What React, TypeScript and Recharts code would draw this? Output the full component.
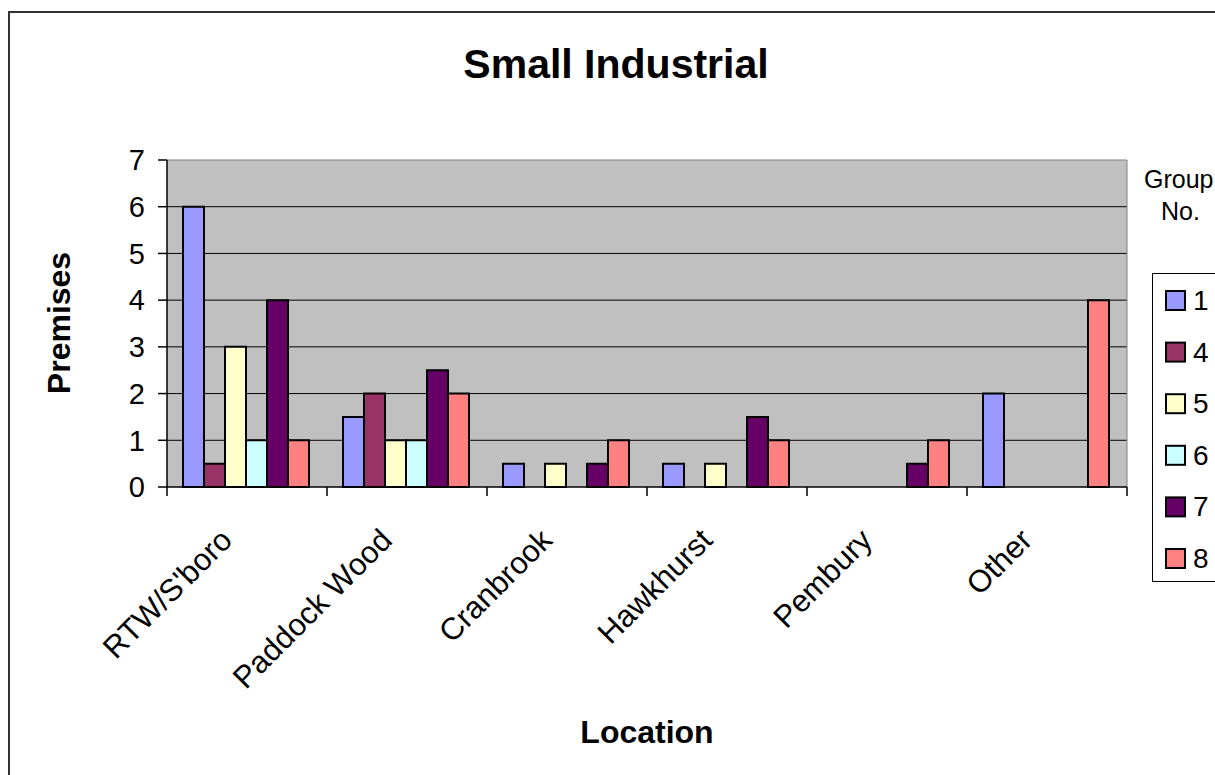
import {
  Bar,
  BarChart,
  CartesianGrid,
  ReferenceLine,
  XAxis,
  YAxis,
} from "recharts";

const LOCATIONS = [
  "RTW/S'boro",
  "Paddock Wood",
  "Cranbrook",
  "Hawkhurst",
  "Pembury",
  "Other",
];

const GROUPS = ["1", "4", "5", "6", "7", "8"];
const GROUP_COLORS = ["#9999FF", "#993366", "#FFFFCC", "#CCFFFF", "#660066", "#FF8080"];

// premises per group, one entry per location (null = no bar)
const GROUP_1 = [6, 1.5, 0.5, 0.5, null, 2];
const GROUP_4 = [0.5, 2, null, null, null, null];
const GROUP_5 = [3, 1, 0.5, 0.5, null, null];
const GROUP_6 = [1, 1, null, null, null, null];
const GROUP_7 = [4, 2.5, 0.5, 1.5, 0.5, null];
const GROUP_8 = [1, 2, 1, 1, 1, 4];

const Y_TICKS = [0, 1, 2, 3, 4, 5, 6, 7];

const FONT = "'Liberation Sans', Arial, sans-serif";

const SERIES = [GROUP_1, GROUP_4, GROUP_5, GROUP_6, GROUP_7, GROUP_8];

const rows = LOCATIONS.map((name, i) => {
  const row: Record<string, string | number | null> = { name };
  GROUPS.forEach((g, s) => {
    row["g" + g] = SERIES[s][i];
  });
  return row;
});

// rotated category label plus the tick marks on the band edges
function LocationTick(props: any) {
  const { x, y, payload, index, visibleTicksCount, width } = props;
  const half =
    typeof payload.offset === "number" && payload.offset > 0
      ? payload.offset
      : width / visibleTicksCount / 2;
  const tx = x - 13;
  const ty = y + 55;
  const last = index === visibleTicksCount - 1;
  return (
    <g>
      <line x1={x - half} x2={x - half} y1={y} y2={y + 9} stroke="#000" strokeWidth={1.5} />
      {last && (
        <line x1={x + half} x2={x + half} y1={y} y2={y + 9} stroke="#000" strokeWidth={1.5} />
      )}
      <text
        x={tx}
        y={ty}
        transform={`rotate(-45, ${tx}, ${ty})`}
        textAnchor="end"
        fontFamily={FONT}
        fontSize={31}
        fill="#000"
      >
        {payload.value}
      </text>
    </g>
  );
}

export default function App() {
  return (
    <div
      style={{
        position: "fixed",
        left: 0,
        top: 0,
        width: 1215,
        height: 775,
        overflow: "hidden",
        background: "#fff",
      }}
    >
      <div
        style={{
          position: "absolute",
          left: 8,
          top: 11,
          width: 1260,
          height: 820,
          border: "2px solid #333",
        }}
      />
      <div style={{ position: "absolute", left: 0, top: 0 }}>
        <BarChart
          width={1240}
          height={775}
          data={rows}
          margin={{ top: 160, right: 113, left: 107, bottom: 287 }}
          barCategoryGap="10%"
          barGap={0}
        >
          <CartesianGrid
            fill="#C0C0C0"
            stroke="#000"
            vertical={false}
            horizontalValues={[1, 2, 3, 4, 5, 6]}
          />
          <XAxis
            dataKey="name"
            height={1}
            stroke="#000"
            strokeWidth={1.5}
            tickLine={false}
            tickSize={0}
            tickMargin={0}
            interval={0}
            tick={<LocationTick />}
          />
          <YAxis
            width={60}
            domain={[0, 7]}
            ticks={Y_TICKS}
            interval={0}
            tickSize={9}
            tickMargin={13}
            stroke="#000"
            strokeWidth={1.5}
            tick={{ fontSize: 29, fill: "#000", fontFamily: FONT }}
          />
          <ReferenceLine y={7} stroke="#808080" />
          <ReferenceLine x="Other" position="end" stroke="#808080" />
          {GROUPS.map((g, i) => (
            <Bar
              key={g}
              dataKey={"g" + g}
              name={g}
              fill={GROUP_COLORS[i]}
              stroke="#000"
              strokeWidth={2}
              isAnimationActive={false}
            />
          ))}
        </BarChart>
      </div>
      <svg
        width={1215}
        height={775}
        style={{ position: "absolute", left: 0, top: 0, pointerEvents: "none" }}
        fontFamily={FONT}
      >
        <text x={616} y={78} textAnchor="middle" fontSize={41} fontWeight="bold">
          Small Industrial
        </text>
        <text x={647} y={743} textAnchor="middle" fontSize={32} fontWeight="bold">
          Location
        </text>
        <text
          x={70}
          y={323}
          textAnchor="middle"
          fontSize={32}
          fontWeight="bold"
          transform="rotate(-90, 70, 323)"
        >
          Premises
        </text>
        <text x={1144} y={188} fontSize={25}>
          Group
        </text>
        <text x={1161} y={220} fontSize={25}>
          No.
        </text>
        <rect x={1152.5} y={273.5} width={120} height={308} fill="#fff" stroke="#000" />
        {GROUPS.map((g, i) => (
          <g key={g}>
            <rect
              x={1166}
              y={291 + i * 51.6}
              width={19}
              height={19}
              fill={GROUP_COLORS[i]}
              stroke="#000"
              strokeWidth={2}
            />
            <text x={1193} y={310 + i * 51.6} fontSize={28}>
              {g}
            </text>
          </g>
        ))}
      </svg>
    </div>
  );
}
